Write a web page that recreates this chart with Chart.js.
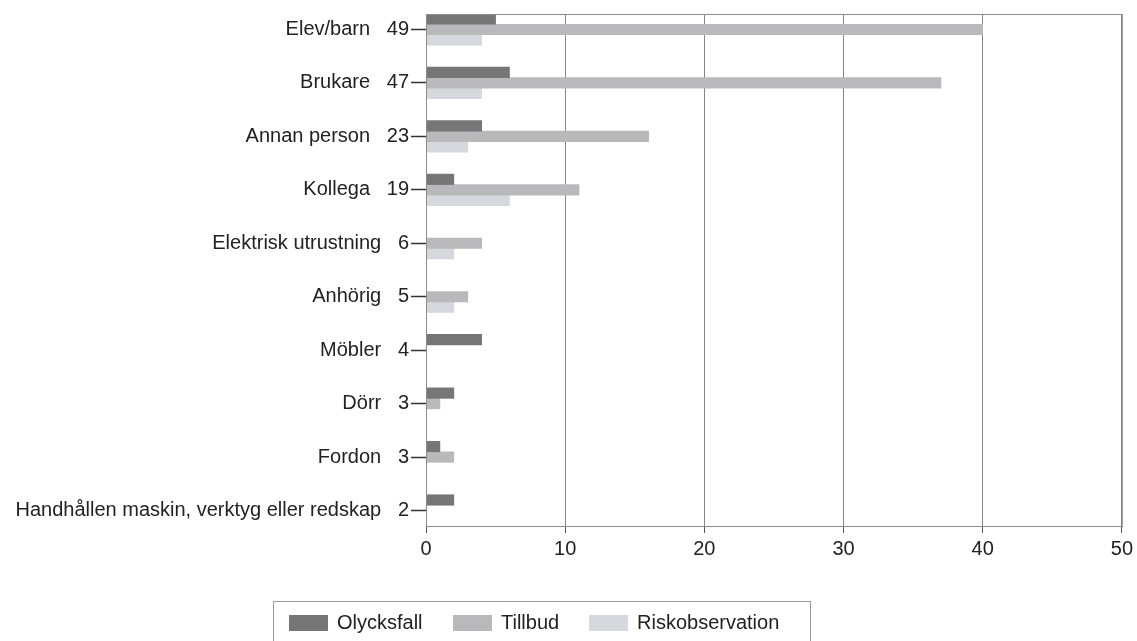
<!DOCTYPE html>
<html>
<head>
<meta charset="utf-8">
<script src="https://cdn.jsdelivr.net/npm/chart.js@4/dist/chart.umd.min.js"></script>
<style>
    body { margin: 0; background: #fff; }
    #wrap { position: relative; width: 1137px; height: 641px; overflow: hidden; }
    #legend {
        position: absolute; left: 273px; top: 601px; width: 538px; height: 44px;
        border: 1px solid #999; box-sizing: border-box;
        font: 20px "Liberation Sans", Arial, sans-serif; color: #222;
    }
    #legend span.item { position: absolute; top: 9px; line-height: 22px; }
    #legend span.box { display: inline-block; width: 39px; height: 16px; vertical-align: -2px; margin-right: 9px; }
</style>
</head>
<body>
<div id="wrap">
    <canvas id="skadaChart" width="1137" height="641"></canvas>
    <div id="legend"></div>
</div>
<script>
const categories = ['Elev/barn', 'Brukare', 'Annan person', 'Kollega', 'Elektrisk utrustning',
    'Anhörig', 'Möbler', 'Dörr', 'Fordon', 'Handhållen maskin, verktyg eller redskap'];
const totals = [49, 47, 23, 19, 6, 5, 4, 3, 3, 2];
const olycksfall = [5, 6, 4, 2, 0, 0, 4, 2, 1, 2];
const tillbud = [40, 37, 16, 11, 4, 3, 0, 1, 2, 0];
const riskobservation = [4, 4, 3, 6, 2, 2, 0, 0, 0, 0];
const xTicks = [0, 10, 20, 30, 40, 50];

const labels = categories.map((c, i) => c + '   ' + totals[i]);
const fontSpec = { family: '"Liberation Sans", Arial, sans-serif', size: 20 };

// box round the plot area
const frame = {
    id: 'frame',
    afterDatasetsDraw(chart) {
        const a = chart.chartArea;
        const ctx = chart.ctx;
        ctx.save();
        ctx.strokeStyle = '#8c8c8c';
        ctx.lineWidth = 1;
        ctx.strokeRect(a.left + 0.5, a.top + 0.5, a.right - a.left, a.bottom - a.top);
        ctx.restore();
    }
};

const ctx = document.getElementById('skadaChart').getContext('2d');
const skadaChart = new Chart(ctx, {
    type: 'bar',
    data: {
        labels: labels,
        datasets: [
            { label: 'Olycksfall', data: olycksfall, backgroundColor: '#767676' },
            { label: 'Tillbud', data: tillbud, backgroundColor: '#b9b9bc' },
            { label: 'Riskobservation', data: riskobservation, backgroundColor: '#d7d7de' }
        ]
    },
    options: {
        indexAxis: 'y',
        responsive: false,
        animation: false,
        barThickness: 10.5,
        layout: { padding: { top: 12, right: 13, bottom: 75, left: 0 } },
        plugins: {
            legend: { display: false },
            tooltip: { enabled: false }
        },
        scales: {
            x: {
                min: 0,
                max: 50,
                afterBuildTicks: function (scale) {
                    scale.ticks = xTicks.map(v => ({ value: v }));
                },
                afterFit: function (scale) { scale.height = 40; },
                grid: { color: '#858585', tickLength: 7, tickColor: '#555' },
                border: { color: '#8c8c8c' },
                ticks: { font: fontSpec, color: '#222', padding: 4, maxRotation: 0 }
            },
            y: {
                offset: false,
                afterBuildTicks: function (scale) {
                    // leave some room above first and below last category
                    scale._startValue = scale.min - 0.29;
                    scale._valueRange = scale.max - scale.min + 0.58;
                },
                afterFit: function (scale) { scale.width = 426; },
                grid: { drawOnChartArea: false, offset: false, tickLength: 15, tickColor: '#333', tickWidth: 1.5 },
                border: { color: '#8c8c8c' },
                ticks: { font: fontSpec, color: '#222', padding: 2, autoSkip: false }
            }
        }
    },
    plugins: [frame]
});

// legend as html below the chart
const legendPos = [15, 179, 315];
const legendEl = document.getElementById('legend');
skadaChart.data.datasets.forEach(function (ds, i) {
    const item = document.createElement('span');
    item.className = 'item';
    item.style.left = legendPos[i] + 'px';
    item.innerHTML = '<span class="box" style="background:' + ds.backgroundColor + '"></span>' + ds.label;
    legendEl.appendChild(item);
});
</script>
</body>
</html>
